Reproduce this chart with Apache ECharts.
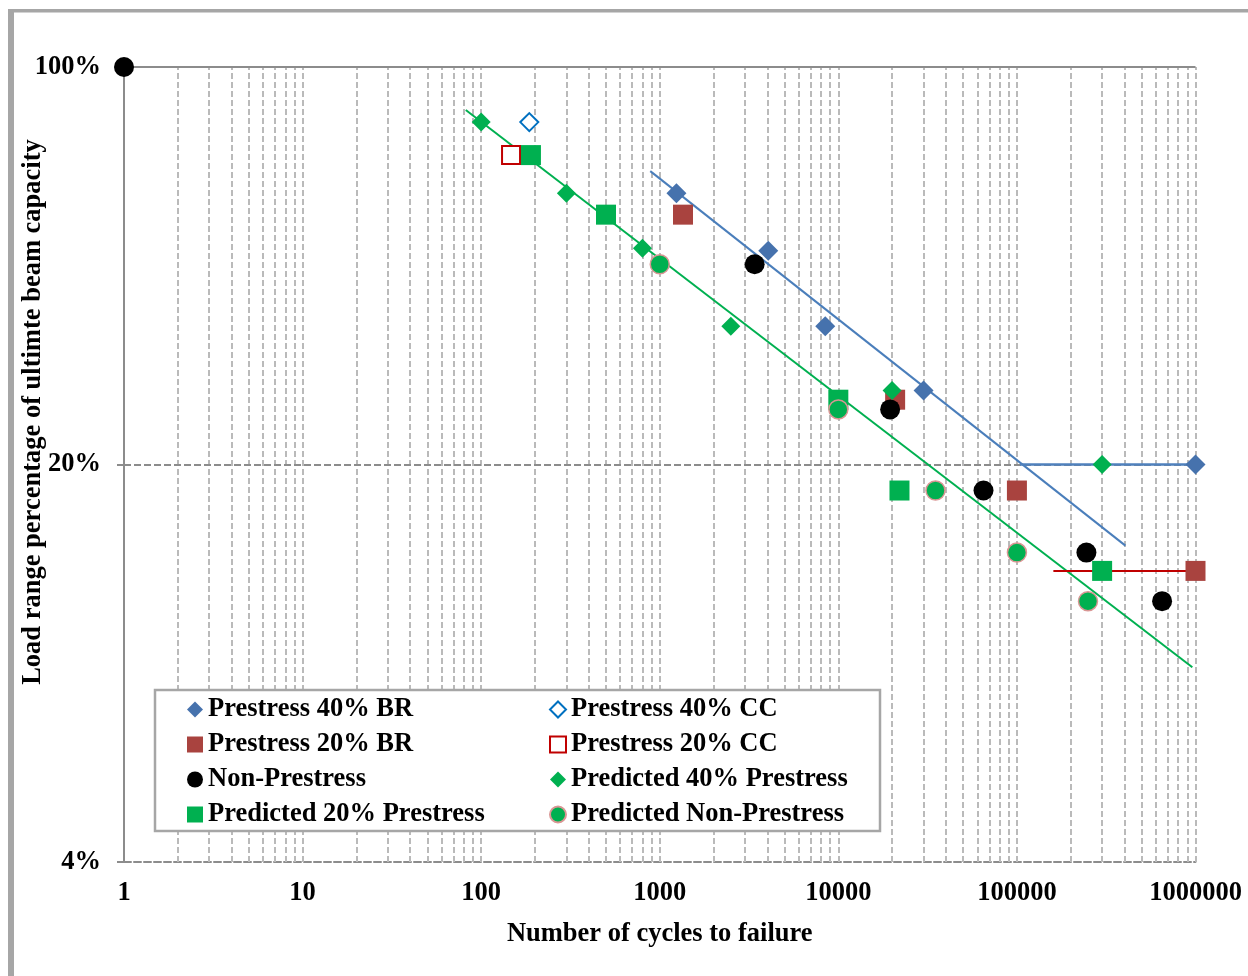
<!DOCTYPE html>
<html>
<head>
<meta charset="utf-8">
<title>Load range vs cycles to failure</title>
<script src="https://cdn.jsdelivr.net/npm/echarts@6/dist/echarts.min.js"></script>
<style>
  html, body { margin: 0; padding: 0; background: #fff; }
  #chart { width: 1248px; height: 976px; }
</style>
</head>
<body>
<div id="chart"></div>
<script>
// Measured points: [cycles to failure, load range % of ultimate capacity]
const prestress40BR = [[1240, 60], [4050, 47.5], [8450, 35], [30000, 27], [1000000, 20]];
const prestress40CC = [[186, 80]];
const prestress20BR = [[1350, 55], [20800, 26], [100000, 18], [1000000, 13]];
const prestress20CC = [[147, 70]];
const nonPrestress = [[1, 100], [3400, 45], [19500, 25], [65000, 18], [245000, 14], [650000, 11.5]];
const predicted40 = [[100, 80], [300, 60], [800, 48], [2500, 35], [20000, 27], [300000, 20]];
const predicted20 = [[190, 70], [500, 55], [10000, 26], [22000, 18], [300000, 13]];
const predictedNon = [[1000, 45], [10000, 25], [35000, 18], [100000, 14], [250000, 11.5]];

// Fitted S-N lines and run-out limits
const fit40BR = [[885, 65.6], [405000, 14.4]];
const fitPredicted = [[82, 84], [960000, 8.8]];
const runout40 = [[104000, 20], [1000000, 20]];
const runout20 = [[160000, 13], [960000, 13]];

// Axis ticks
const xTicks = [1, 10, 100, 1000, 10000, 100000, 1000000];
const yTicks = [4, 20, 100];
const legendLeft = ['Prestress 40% BR', 'Prestress 20% BR', 'Non-Prestress', 'Predicted 20% Prestress'];
const legendRight = ['Prestress 40% CC', 'Prestress 20% CC', 'Predicted 40% Prestress', 'Predicted Non-Prestress'];

const FONT = '"Liberation Serif", "Times New Roman", serif';
const FS = 26.5;

// Vertical log grid: 2..9 within every decade, plus the decade lines
const gridX = [];
for (let d = 1; d < 1000000; d *= 10) {
  for (let k = 2; k <= 10; k++) gridX.push(d * k);
}

const gridLines = gridX.map(x => ({
  xAxis: x,
  lineStyle: { color: '#bababa', width: 2, type: [6, 3] }
}));
gridLines.push({ yAxis: 20, lineStyle: { color: '#8c8c8c', width: 2, type: [7, 3] } });
gridLines.push({ yAxis: 100, lineStyle: { color: '#8c8c8c', width: 2, type: 'solid' } });

function scatter(name, data, symbol, size, itemStyle) {
  return {
    name, type: 'scatter', data, symbol, symbolSize: size,
    itemStyle: Object.assign({ opacity: 1 }, itemStyle),
    z: 3, clip: false, emphasis: { disabled: true }
  };
}
function trend(data, color, width) {
  return {
    type: 'line', data, symbol: 'none', z: 2, silent: true,
    lineStyle: { color, width }, emphasis: { disabled: true }
  };
}

const legendText = { fontFamily: FONT, fontSize: FS, fontWeight: 'bold', color: '#000' };

const chart = echarts.init(document.getElementById('chart'), null, { renderer: 'canvas' });
chart.setOption({
  animation: false,
  backgroundColor: '#fff',
  grid: { left: 124, right: 52.5, top: 67, bottom: 114 },
  xAxis: {
    type: 'log', logBase: 10, min: 1, max: 1000000,
    name: 'Number of cycles to failure', nameLocation: 'middle', nameGap: 59,
    nameTextStyle: { fontFamily: FONT, fontSize: FS, fontWeight: 'bold', color: '#000' },
    axisLine: { show: true, lineStyle: { color: '#8c8c8c', width: 2, type: [7, 3] } },
    axisTick: { show: false },
    axisLabel: {
      customValues: xTicks, margin: 18,
      formatter: v => String(Math.round(v)),
      fontFamily: FONT, fontSize: FS, fontWeight: 'bold', color: '#000'
    },
    splitLine: { show: false }
  },
  yAxis: {
    type: 'log', logBase: 5, min: 4, max: 100,
    axisLine: { show: true, lineStyle: { color: '#8c8c8c', width: 2 } },
    axisTick: { show: true, customValues: yTicks, length: 7, lineStyle: { color: '#8c8c8c', width: 2 } },
    axisLabel: {
      customValues: yTicks, margin: 23,
      formatter: v => Math.round(v) + '%',
      fontFamily: FONT, fontSize: FS, fontWeight: 'bold', color: '#000'
    },
    splitLine: { show: false }
  },
  legend: [
    {
      data: legendLeft, orient: 'vertical', left: 187, top: 696, padding: 0,
      itemGap: 8, itemWidth: 16, itemHeight: 16, itemStyle: { opacity: 1 }, z: 5,
      textStyle: legendText, selectedMode: false
    },
    {
      data: legendRight, orient: 'vertical', left: 549, top: 696, padding: 0,
      itemGap: 8, itemWidth: 16, itemHeight: 16, itemStyle: { opacity: 1 }, z: 5,
      textStyle: legendText, selectedMode: false
    }
  ],
  graphic: [
    // chart-area frame
    { type: 'rect', shape: { x: 8, y: 9, width: 6, height: 980 }, style: { fill: '#a6a6a6' }, z: 10 },
    { type: 'rect', shape: { x: 8, y: 9, width: 1260, height: 3.5 }, style: { fill: '#a6a6a6' }, z: 10 },
    // legend box
    {
      type: 'rect', shape: { x: 155, y: 690, width: 725, height: 141 },
      style: { fill: '#fff', stroke: '#a6a6a6', lineWidth: 2.5 }, z: 4
    },
    // vertical axis title
    {
      type: 'text', x: 33, y: 412, rotation: Math.PI / 2,
      style: {
        text: 'Load range percentage of ultimte beam capacity',
        font: 'bold ' + FS + 'px ' + FONT, fill: '#000',
        align: 'center', verticalAlign: 'middle'
      }
    }
  ],
  series: [
    {
      type: 'line', data: [], z: 1, silent: true,
      markLine: {
        z: 1, silent: true, symbol: ['none', 'none'], label: { show: false },
        emphasis: { disabled: true }, data: gridLines
      }
    },
    trend(fit40BR, '#4a7ebb', 2),
    trend(fitPredicted, '#00b050', 2),
    trend(runout40, '#4f81bd', 2.5),
    trend(runout20, '#c00000', 2),
    scatter('Prestress 40% BR', prestress40BR, 'diamond', 20, { color: '#4672ad' }),
    scatter('Prestress 40% CC', prestress40CC, 'diamond', 18, { color: '#fff', borderColor: '#0070c0', borderWidth: 2 }),
    scatter('Prestress 20% BR', prestress20BR, 'rect', 20, { color: '#a9433f' }),
    scatter('Prestress 20% CC', prestress20CC, 'rect', 18, { color: '#fff', borderColor: '#c00000', borderWidth: 2 }),
    scatter('Non-Prestress', nonPrestress, 'circle', 20, { color: '#000' }),
    scatter('Predicted 40% Prestress', predicted40, 'diamond', 19, { color: '#00b050' }),
    scatter('Predicted 20% Prestress', predicted20, 'rect', 20, { color: '#00b050' }),
    scatter('Predicted Non-Prestress', predictedNon, 'circle', 19, { color: '#00b050', borderColor: '#d99694', borderWidth: 1.5 })
  ]
});
</script>
</body>
</html>
